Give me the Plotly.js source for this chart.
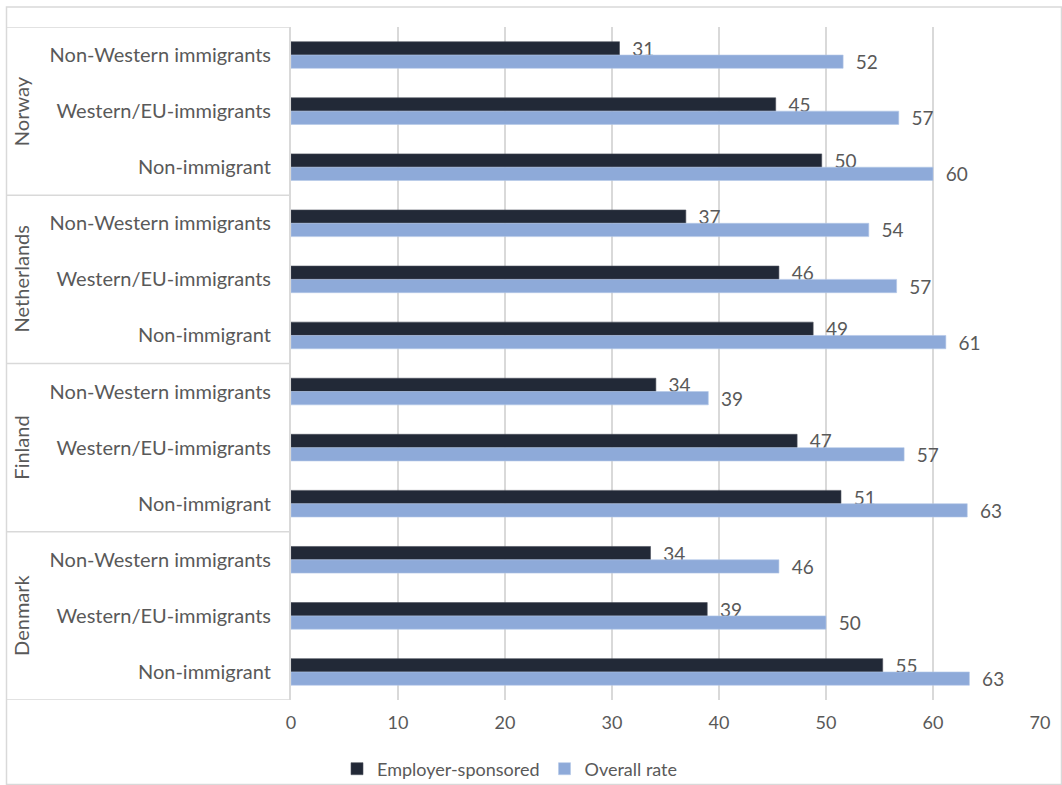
<!DOCTYPE html>
<html>
<head>
<meta charset="utf-8">
<script src="https://cdn.plot.ly/plotly-3.0.1.min.js"></script>
<style>
  html, body { margin: 0; padding: 0; background: #ffffff; }
  #chart { width: 1062px; height: 785px; }
</style>
</head>
<body>
<div id="chart"></div>
<script>
// Data (top-to-bottom order as shown)
var countries = ['Norway', 'Netherlands', 'Finland', 'Denmark'];
var groups = ['Non-Western immigrants', 'Western/EU-immigrants', 'Non-immigrant'];
var employerSponsored = [
  30.7, 45.3, 49.6,   // Norway
  36.9, 45.6, 48.8,   // Netherlands
  34.1, 47.3, 51.4,   // Finland
  33.6, 38.9, 55.3    // Denmark
];
var overallRate = [
  51.6, 56.8, 60.0,
  54.0, 56.6, 61.2,
  39.0, 57.3, 63.2,
  45.6, 50.0, 63.4
];
var seriesNames = ['Employer-sponsored', 'Overall rate'];
var xTicks = [0, 10, 20, 30, 40, 50, 60, 70];

var FONT = 'Lato, "Open Sans", sans-serif';
var GREY = '#595959';

var yPos = [], yText = [];
countries.forEach(function (c, ci) {
  groups.forEach(function (g, gi) {
    yPos.push(ci * groups.length + gi);
    yText.push(g);
  });
});

var traceCommon = {
  type: 'bar',
  orientation: 'h',
  y: yPos,
  texttemplate: '\u00a0\u00a0%{x:.0f}',
  textposition: 'outside',
  constraintext: 'none',
  cliponaxis: false,
  textfont: { family: FONT, size: 19, color: GREY },
  hoverinfo: 'x'
};

var t1 = Object.assign({}, traceCommon, {
  name: seriesNames[0],
  x: employerSponsored,
  marker: { color: '#222937', line: { color: '#4a4f5a', width: 0.6 } }
});
var t2 = Object.assign({}, traceCommon, {
  name: seriesNames[1],
  x: overallRate,
  marker: { color: '#8eaad9', line: { color: '#b4c7e7', width: 0.6 } }
});

// plot geometry helpers (decoration only)
var L = 291, R = 22, T = 27, B = 85, W = 1062, H = 785;
var pw = W - L - R, ph = H - T - B;
function px2x(px) { return (px - L) / pw; }
function px2y(py) { return (H - B - py) / ph; }

var shapes = [];
var nG = groups.length;
var n = yPos.length;
// outer chart border
shapes.push({ type: 'rect', xref: 'paper', yref: 'paper',
  x0: px2x(6.5), x1: px2x(1061.5), y0: px2y(784.5), y1: px2y(7),
  line: { color: '#d9d9d9', width: 1.5 }, fillcolor: 'rgba(0,0,0,0)', layer: 'below' });
// category box separators
for (var k = 0; k <= countries.length; k++) {
  shapes.push({ type: 'line', xref: 'paper', yref: 'y',
    x0: px2x(7), x1: 0, y0: k * nG - 0.5, y1: k * nG - 0.5,
    line: { color: '#d9d9d9', width: 1.5 } });
}
shapes.push({ type: 'line', xref: 'paper', yref: 'y',
  x0: px2x(290), x1: px2x(290), y0: -0.5, y1: n - 0.5,
  line: { color: '#d9d9d9', width: 1.5 } });

var annotations = countries.map(function (c, ci) {
  return {
    text: c, xref: 'paper', yref: 'y',
    x: px2x(21), y: ci * nG + (nG - 1) / 2,
    showarrow: false, textangle: -90,
    xanchor: 'center', yanchor: 'middle',
    font: { family: FONT, size: 20, color: GREY }
  };
});

var layout = {
  width: W, height: H,
  margin: { l: L, r: R, t: T, b: B, pad: 0, autoexpand: false },
  paper_bgcolor: '#ffffff',
  plot_bgcolor: '#ffffff',
  font: { family: FONT, color: GREY },
  barmode: 'group',
  bargap: 0.525,
  bargroupgap: 0,
  showlegend: true,
  legend: {
    orientation: 'h',
    x: px2x(337), xanchor: 'left',
    y: px2y(769), yanchor: 'middle',
    font: { family: FONT, size: 18, color: GREY },
    itemwidth: 30,
    bgcolor: 'rgba(0,0,0,0)'
  },
  xaxis: {
    range: [0, 70],
    tickvals: xTicks,
    ticktext: xTicks.map(String),
    showgrid: true,
    gridcolor: '#d9d9d9',
    gridwidth: 2,
    zeroline: false,
    showline: false,
    ticks: '',
    ticklabelstandoff: 10,
    tickfont: { family: FONT, size: 18, color: GREY },
    fixedrange: true
  },
  yaxis: {
    range: [n - 0.5, -0.5],
    tickvals: yPos,
    ticktext: yText,
    showgrid: false,
    zeroline: false,
    showline: true,
    linecolor: '#d9d9d9',
    linewidth: 2,
    ticks: '',
    ticklabelstandoff: 14,
    tickfont: { family: FONT, size: 20, color: GREY },
    fixedrange: true
  },
  shapes: shapes,
  annotations: annotations
};

Plotly.newPlot('chart', [t1, t2], layout, { displayModeBar: false, staticPlot: true });
</script>
</body>
</html>
